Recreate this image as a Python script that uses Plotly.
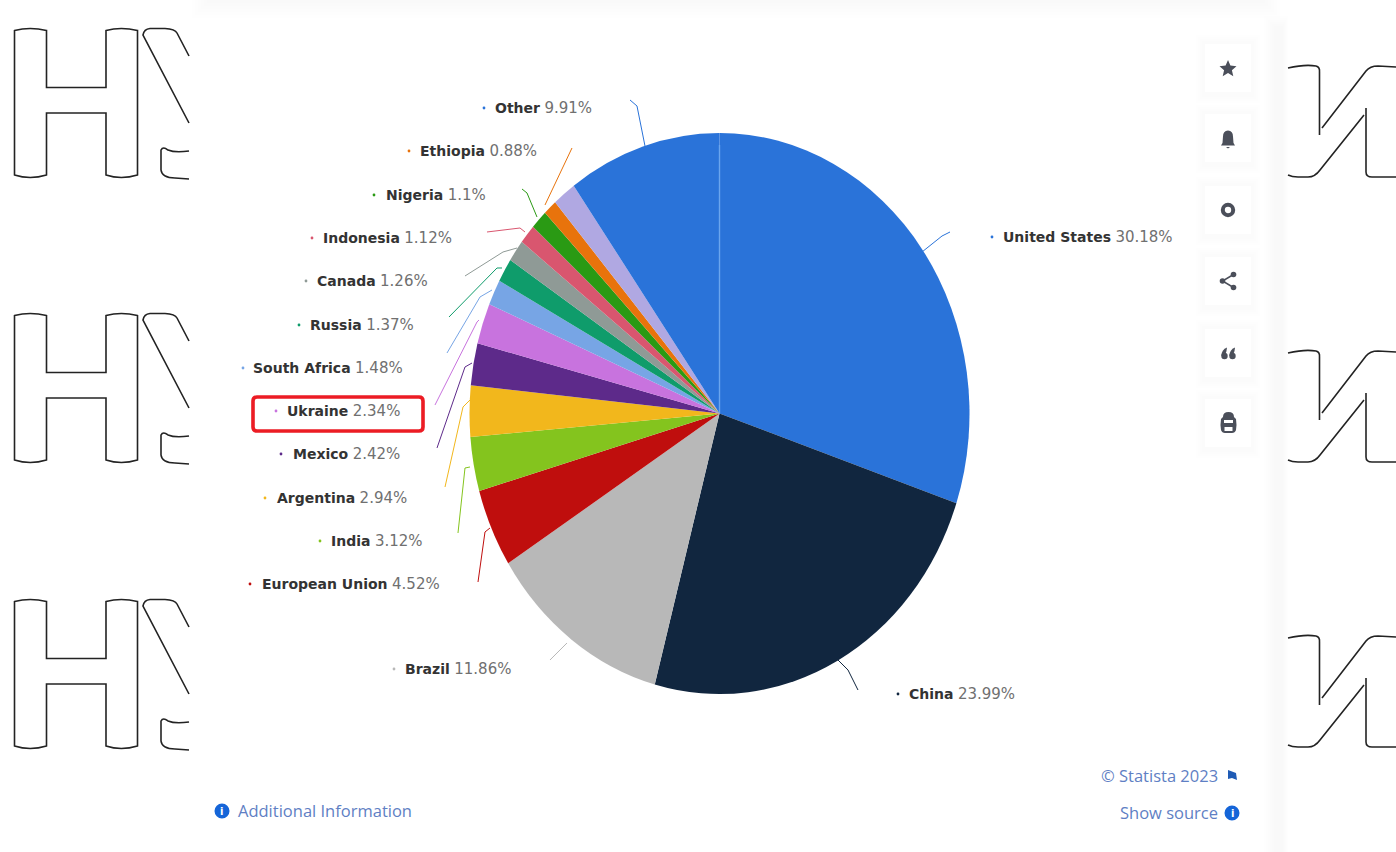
import re
import plotly.graph_objects as go

WIDTH, HEIGHT = 1396, 852

# Shares in percent, clockwise from twelve o'clock
countries = ["United States", "China", "Brazil", "European Union", "India", "Argentina",
             "Mexico", "Ukraine", "South Africa", "Russia", "Canada", "Indonesia",
             "Nigeria", "Ethiopia", "Unnamed", "Other"]
shares = [30.18, 23.99, 11.86, 4.52, 3.12, 2.94, 2.42, 2.34, 1.48, 1.37, 1.26, 1.12,
          1.1, 0.88, 1.51, 9.91]
slice_colors = ["#2a73d9", "#11263f", "#b8b8b8", "#bf0e0d", "#84c41e", "#f2b71c",
                "#5d2a8a", "#c873de", "#77a5e5", "#0f9c6b", "#8f9a96", "#d9566f",
                "#2a9a14", "#e8730c", "#b0a8e2", "#2a73d9"]

# Label layout: name -> (left edge of name, vertical centre, bullet x)
label_place = {
    "United States": (1003, 237, 992), "China": (909, 694, 898), "Brazil": (405, 669, 394),
    "European Union": (262, 584, 250), "India": (331, 541, 320), "Argentina": (277, 498, 265),
    "Mexico": (293, 454, 281), "Ukraine": (287, 411, 276), "South Africa": (253, 368, 243),
    "Russia": (310, 325, 299), "Canada": (317, 281, 306), "Indonesia": (323, 238, 312),
    "Nigeria": (386, 195, 374), "Ethiopia": (420, 151, 409), "Other": (495, 108, 484),
}
# Leader lines from each label towards its slice
leaders = {
    "United States": "M922,252 L942,236 L950,232",
    "China": "M838,660 L848,670 L858,690",
    "Brazil": "M550,660 L567,643",
    "European Union": "M478,582 L485,532 L490,528",
    "India": "M458,533 L465,468 L470,467",
    "Argentina": "M445,487 L463,407 L470,400",
    "Mexico": "M437,448 L465,367 L472,363",
    "Ukraine": "M435,405 L477,322 L479,320",
    "South Africa": "M447,353 L480,297 L492,290",
    "Russia": "M449,317 L497,268 L502,268",
    "Canada": "M465,276 L503,252 L517,248",
    "Indonesia": "M487,232 L520,228 L525,232",
    "Nigeria": "M522,189 L527,193 L537,217",
    "Ethiopia": "M572,148 L545,205",
    "Other": "M630,100 L637,106 L645,146",
}

PIE_CX, PIE_CY, PIE_RX, PIE_RY = 719.5, 413.5, 250, 280.5

INK = "#232323"
ICON = "#4b4f5a"
LINK = "#5f7fc4"
LINK_DARK = "#1565d8"


def fx(x):
    return x / WIDTH


def fy(y):
    return 1 - y / HEIGHT


def to_paper(path):
    """Turn an SVG path written in page pixels into paper fractions."""
    return re.sub(r"(-?[\d.]+),(-?[\d.]+)",
                  lambda m: f"{fx(float(m[1])):.5f},{fy(float(m[2])):.5f}", path)


shapes = []


def add_path(path, color=None, width=0, fill=None):
    shapes.append(dict(type="path", xref="paper", yref="paper", path=to_paper(path),
                       line=dict(color=color or "rgba(0,0,0,0)", width=width),
                       fillcolor=fill or "rgba(0,0,0,0)", layer="above"))


def add_rect(x0, y0, x1, y1, fill):
    shapes.append(dict(type="rect", xref="paper", yref="paper", x0=fx(x0), x1=fx(x1),
                       y0=fy(y0), y1=fy(y1), line=dict(width=0), fillcolor=fill, layer="below"))


def add_circle(cx, cy, r, fill=None, color=None, width=0):
    shapes.append(dict(type="circle", xref="paper", yref="paper",
                       x0=fx(cx - r), x1=fx(cx + r), y0=fy(cy - r), y1=fy(cy + r),
                       line=dict(color=color or "rgba(0,0,0,0)", width=width),
                       fillcolor=fill or "rgba(0,0,0,0)", layer="above"))


def shifted(path, dy):
    return re.sub(r"(-?[\d.]+),(-?[\d.]+)", lambda m: f"{m[1]},{float(m[2]) + dy}", path)


# Outlined watermark letters either side of the panel
LEFT_OUTLINES = [
    "M14.5,30.5 Q30,26.5 46.5,30.5 L46.5,87.5 L106,87.5 L106,30.5 Q121,26.5 137.5,30.5 "
    "L137.5,175 Q121,180 106,175 L106,113 L46.5,113 L46.5,175 Q30,180 14.5,175 Z",
    "M189,56 L177,33 Q175,29 165,28.5 L150,28.5 Q144,29 143,35 L189,123",
    "M189,151 Q175,153 168,150 Q163,146 161,150 L161,170 Q162,178 175,178 L189,179",
]
RIGHT_OUTLINES = [
    "M1288,68 Q1305,64 1316,66 Q1320,67 1319.5,72 L1319.5,135",
    "M1322,128 L1366,71 Q1370,66 1378,66 L1396,67",
    "M1364,115 L1320,170 Q1315,177 1308,177 L1298,177 Q1292,177 1288,175",
    "M1366,108 L1366,172 Q1366,177 1372,177 L1396,177",
]
for dy in (0, 285, 571):
    for outline in LEFT_OUTLINES:
        add_path(shifted(outline, dy), INK, 1.6)
for dy in (0, 285, 570):
    for outline in RIGHT_OUTLINES:
        add_path(shifted(outline, dy), INK, 1.6)

# Soft panel edges along the top and right
for i in range(6):
    add_rect(192 + 3 * i, 0, 1280 - 3 * i, 18 - 3 * i, "rgba(120,120,120,0.008)")
    add_rect(1264 + 2 * i, 16 + 2 * i, 1288 - i, HEIGHT, "rgba(130,130,130,0.012)")

# Toolbar cards and their icons
for cy in (68, 138, 210, 281, 353, 423):
    for grow, alpha in ((8, 0.006), (6, 0.007), (4, 0.008), (2, 0.008)):
        add_rect(1204 - grow, cy - 25 - grow, 1252 + grow, cy + 27 + grow,
                 f"rgba(110,110,120,{alpha})")
    add_rect(1205, cy - 24, 1251, cy + 24, "#ffffff")

add_path("M1228,60 L1230.4,65.6 L1236.5,66.2 L1231.9,70.2 L1233.3,76.2 L1228,73 L1222.7,76.2 "
         "L1224.1,70.2 L1219.5,66.2 L1225.6,65.6 Z", fill=ICON)
add_path("M1228,130.5 Q1233,131 1233,136.5 L1233.5,143 L1235,145.5 L1221,145.5 L1222.5,143 "
         "L1223,136.5 Q1223,131 1228,130.5 Z M1226,147 L1230,147 L1228,148.5 Z", fill=ICON)
add_circle(1228, 210, 5.2, color=ICON, width=4)
add_path("M1233.5,274.5 L1222.5,281 L1233.5,287.5", ICON, 1.5)
for x, y in ((1233.5, 274.5), (1222.5, 281), (1233.5, 287.5)):
    add_circle(x, y, 2.8, fill=ICON)
# Two opening quote marks
for x in (1224.5, 1232.5):
    add_circle(x, 356, 3.2, fill=ICON)
    add_path(f"M{x - 3.2},356 Q{x - 3},349.5 {x + 2.5},347.5 L{x + 2},351 L{x + 1},354 Z", fill=ICON)
add_path("M1223,417 Q1223,412 1228.5,412 Q1234,412 1234,417 L1236,419 Q1237,425 1236,430 "
         "Q1235,433 1232,433 L1225,433 Q1222,433 1221,430 Q1220,425 1221,419 Z "
         "M1224,420 L1224,423 L1233,423 L1233,420 Z M1224.5,427 L1224.5,431 L1232.5,431 L1232.5,427 Z",
         fill=ICON)

# Seam where the first and last blue slices meet
add_path("M719.5,145 L719.5,413", "#6aa5ee", 1.4)

# Highlight box round the Ukraine label
add_path("M257,397 L419,397 Q423,397 423,401 L423,427 Q423,431 419,431 L257,431 "
         "Q253,431 253,427 L253,401 Q253,397 257,397 Z", "#ec1c24", 3.6)

annotations = []


def add_text(x, y, text, anchor="left", size=15, color=INK, family="DejaVu Sans"):
    annotations.append(dict(x=fx(x), y=fy(y), xref="paper", yref="paper", text=text,
                            xanchor=anchor, yanchor="middle", showarrow=False,
                            font=dict(family=family, size=size, color=color),
                            borderpad=0, borderwidth=0))


# Slice labels, each with its bullet and leader in the slice colour
for name, value, color in zip(countries, shares, slice_colors):
    if name not in label_place:
        continue
    x, y, bullet_x = label_place[name]
    add_text(x, y,
             f"<b>{name}</b> <span style='font-size:15px;color:#707070'>{value:g}%</span>",
             size=14, color="#333333")
    add_circle(bullet_x, y, 1.4, fill=color)
    add_path(leaders[name], color, 1)

# Footer links
add_text(1218, 775, "© Statista 2023", anchor="right", size=16.5, color=LINK, family="Open Sans")
add_text(1218, 812, "Show source", anchor="right", size=16.5, color=LINK, family="Open Sans")
add_text(238, 810, "Additional Information", size=16.5, color=LINK, family="Open Sans")
add_path("M1228,770 L1236,773 L1237,780 L1232,778 L1228,779 Z", fill="#1f5bb5")
add_circle(1232, 813, 7.5, fill=LINK_DARK)
add_circle(222, 811, 7.5, fill=LINK_DARK)
add_text(1232, 813, "<b>i</b>", anchor="center", size=10, color="#ffffff")
add_text(222, 811, "<b>i</b>", anchor="center", size=10, color="#ffffff")

fig = go.Figure(go.Pie(
    labels=countries,
    values=shares,
    sort=False,
    direction="clockwise",
    rotation=0,
    textinfo="none",
    showlegend=False,
    marker=dict(colors=slice_colors, line=dict(width=0)),
    domain=dict(x=[fx(PIE_CX - PIE_RY), fx(PIE_CX + PIE_RY)],
                y=[fy(PIE_CY + PIE_RY), fy(PIE_CY - PIE_RY)]),
))
fig.update_layout(width=WIDTH, height=HEIGHT, autosize=False,
                  margin=dict(l=0, r=0, t=0, b=0, pad=0),
                  paper_bgcolor="#ffffff", plot_bgcolor="#ffffff",
                  shapes=shapes, annotations=annotations)

# The pie is drawn taller than wide: narrow the pie layer about its centre
squeeze = PIE_RX / PIE_RY
post_script = (
    "var layer = document.getElementById('{plot_id}').querySelector('.pielayer');"
    f"layer.setAttribute('transform', 'translate({PIE_CX * (1 - squeeze):.3f},0) scale({squeeze:.5f},1)');"
)
fig.write_html("out.html", post_script=post_script, config=dict(displayModeBar=False))
